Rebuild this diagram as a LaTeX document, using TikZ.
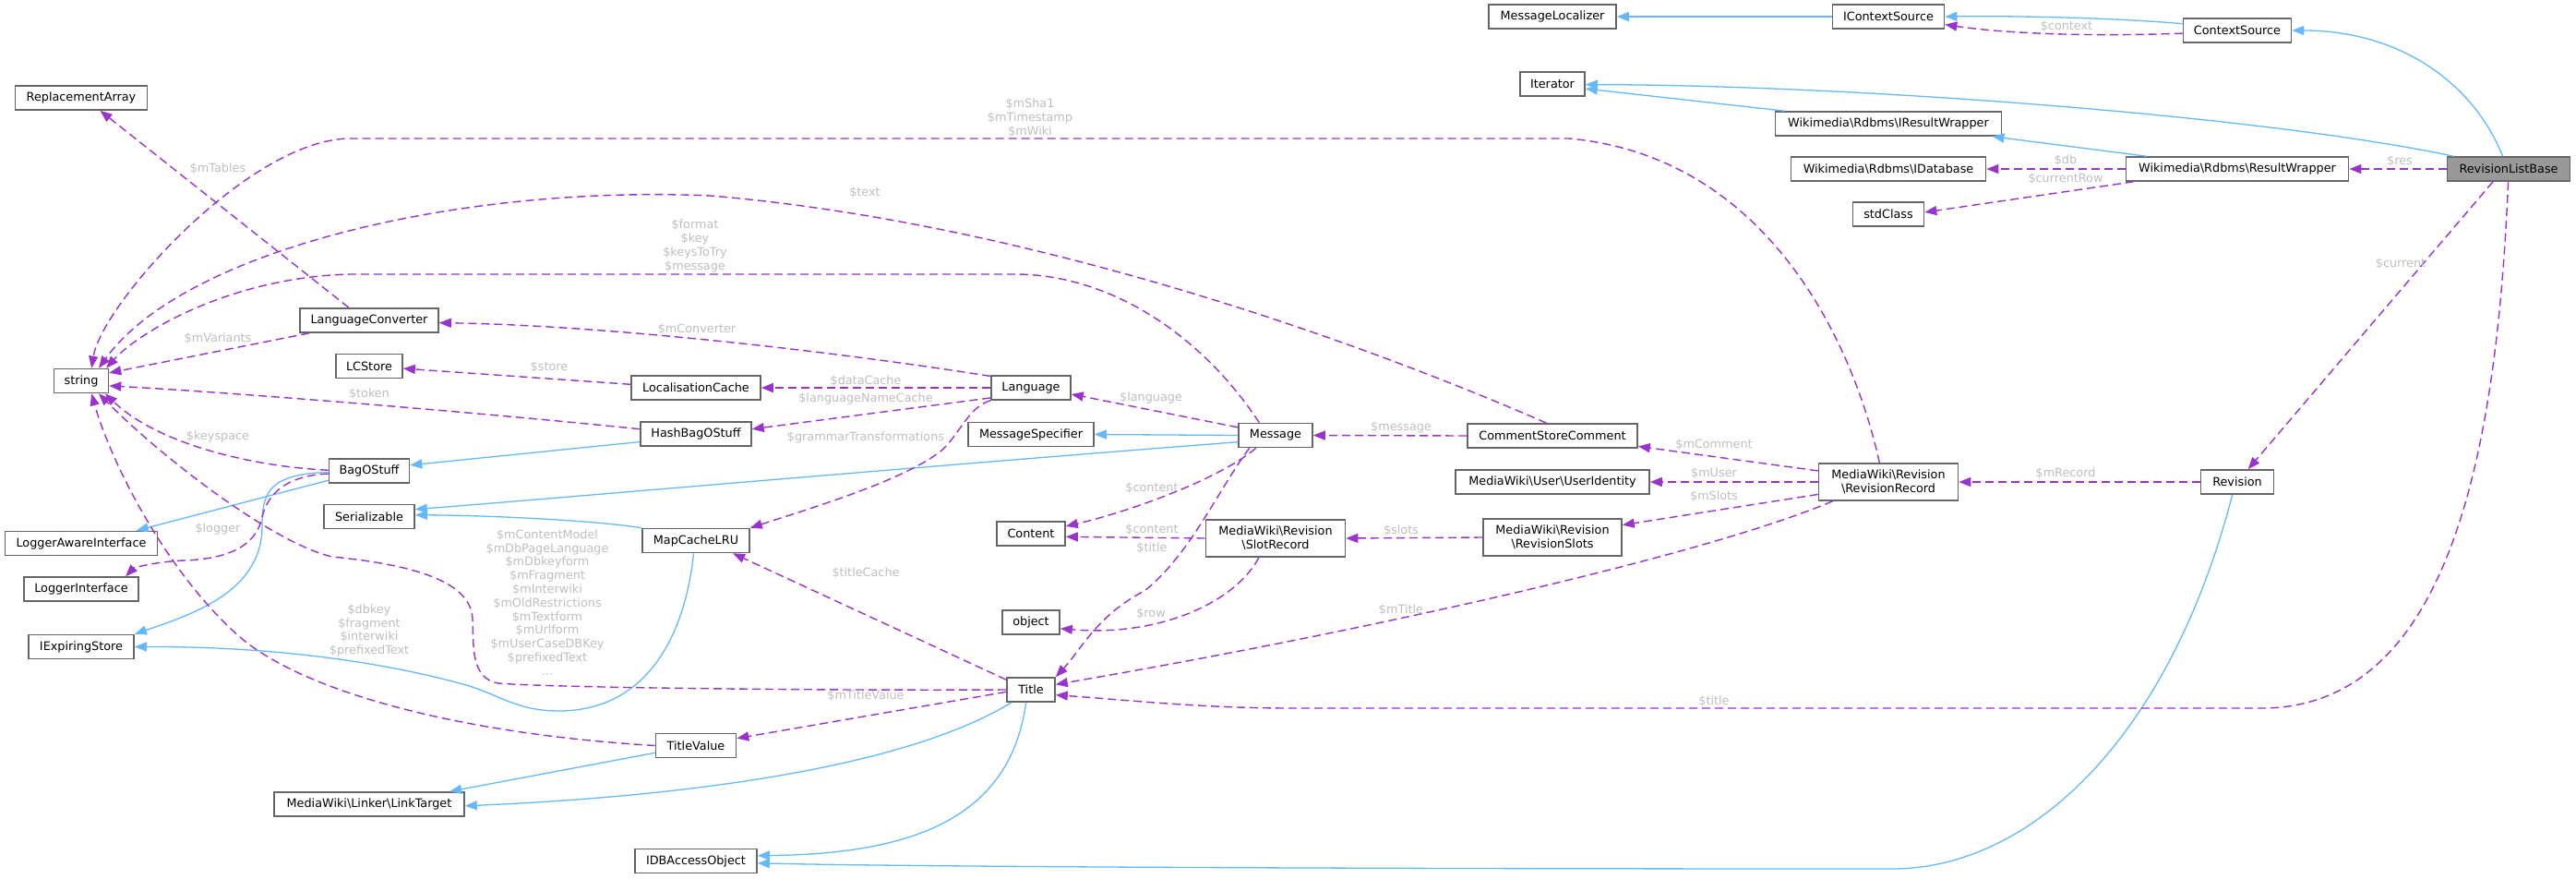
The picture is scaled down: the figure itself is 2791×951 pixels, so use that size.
\documentclass[tikz,border=0pt]{standalone}
\usepackage{fontspec}
\setmainfont{DejaVu Sans}
\usetikzlibrary{arrows.meta}
\definecolor{inhblue}{HTML}{63B8FF}
\definecolor{usepurple}{HTML}{9A32CD}
\definecolor{boxgray}{HTML}{666666}
\definecolor{lblgray}{HTML}{BEBEBE}
\definecolor{mainfill}{HTML}{999999}
\newcommand{\bs}{\textbackslash}
\begin{document}
\begin{tikzpicture}[x=1pt,y=-1pt,
  cls/.style={draw=boxgray, line width=1.6pt, fill=white, minimum height=26pt, inner sep=0pt, font=\fontsize{12.8}{15}\selectfont, align=center},
  cls2/.style={cls, minimum height=40pt},
  inh/.style={draw=inhblue, line width=1.3pt, -{Triangle[length=13pt,width=10pt]}},
  usage/.style={draw=usepurple, line width=1.4pt, dash pattern=on 9pt off 5pt, -{Triangle[length=13pt,width=10pt]}},
  lbl/.style={text=lblgray, font=\fontsize{12.8}{14.8}\selectfont, align=center, inner sep=0pt},
]
\useasboundingbox (0,0) rectangle (2791,951);

% nodes
\node[cls, minimum width=138pt] (MessageLocalizer) at (1682,18) {MessageLocalizer};
\node[cls, minimum width=121pt] (IContextSource) at (2046,18) {IContextSource};
\node[cls, minimum width=117pt] (ContextSource) at (2424,33) {ContextSource};
\node[cls, minimum width=70pt] (Iterator) at (1682,91) {Iterator};
\node[cls, minimum width=245pt] (IResultWrapper) at (2046,134) {Wikimedia\bs Rdbms\bs IResultWrapper};
\node[cls, minimum width=211pt] (IDatabase) at (2046,183) {Wikimedia\bs Rdbms\bs IDatabase};
\node[cls, minimum width=241pt] (ResultWrapper) at (2424,183) {Wikimedia\bs Rdbms\bs ResultWrapper};
\node[cls, minimum width=133pt, fill=mainfill] (RevisionListBase) at (2718,183) {RevisionListBase};
\node[cls, minimum width=77pt] (stdClass) at (2046,232) {stdClass};
\node[cls, minimum width=143pt] (ReplacementArray) at (88,106) {ReplacementArray};
\node[cls, minimum width=59pt] (string) at (88,412.5) {string};
\node[cls, minimum width=150pt] (LanguageConverter) at (400,347) {LanguageConverter};
\node[cls, minimum width=72pt] (LCStore) at (400,396.5) {LCStore};
\node[cls, minimum width=140pt] (LocalisationCache) at (754,420) {LocalisationCache};
\node[cls, minimum width=86pt] (Language) at (1117,420) {Language};
\node[cls, minimum width=120pt] (HashBagOStuff) at (754,470) {HashBagOStuff};
\node[cls, minimum width=136pt] (MessageSpecifier) at (1117,470.5) {MessageSpecifier};
\node[cls, minimum width=80pt] (Message) at (1382,471.5) {Message};
\node[cls, minimum width=184pt] (CommentStoreComment) at (1682,472) {CommentStoreComment};
\node[cls, minimum width=87pt] (BagOStuff) at (400,510) {BagOStuff};
\node[cls, minimum width=98pt] (Serializable) at (400,559.5) {Serializable};
\node[cls, minimum width=210pt] (UserIdentity) at (1682,522) {MediaWiki\bs User\bs UserIdentity};
\node[cls2, minimum width=151pt] (RevisionRecord) at (2046,522) {MediaWiki\bs Revision\\\bs RevisionRecord};
\node[cls, minimum width=79pt] (Revision) at (2424,522) {Revision};
\node[cls, minimum width=165pt] (LoggerAwareInterface) at (88,588.5) {LoggerAwareInterface};
\node[cls, minimum width=116pt] (MapCacheLRU) at (754,585.5) {MapCacheLRU};
\node[cls, minimum width=74pt] (Content) at (1117,578) {Content};
\node[cls2, minimum width=151pt] (SlotRecord) at (1382,583) {MediaWiki\bs Revision\\\bs SlotRecord};
\node[cls2, minimum width=150pt] (RevisionSlots) at (1682,582) {MediaWiki\bs Revision\\\bs RevisionSlots};
\node[cls, minimum width=124pt] (LoggerInterface) at (88,638) {LoggerInterface};
\node[cls, minimum width=62pt] (object) at (1117,674) {object};
\node[cls, minimum width=114pt] (IExpiringStore) at (88,700.5) {IExpiringStore};
\node[cls, minimum width=52pt] (Title) at (1117,747) {Title};
\node[cls, minimum width=87pt] (TitleValue) at (754,807.5) {TitleValue};
\node[cls, minimum width=206pt] (LinkTarget) at (400,871) {MediaWiki\bs Linker\bs LinkTarget};
\node[cls, minimum width=132pt] (IDBAccessObject) at (754,932.5) {IDBAccessObject};

% inheritance edges
\draw[inh] (IContextSource.west) -- (MessageLocalizer.east);
\draw[inh] (ContextSource.173) .. controls (2300,20) and (2200,17) .. (IContextSource.east);
\draw[inh] (RevisionListBase.115) .. controls (2680,90) and (2600,33) .. (ContextSource.east);
\draw[inh] (RevisionListBase.167) .. controls (2450,125) and (2000,92) .. (Iterator.-1);
\draw[inh] (IResultWrapper.173) -- (Iterator.-8);
\draw[inh] (ResultWrapper.172) -- (IResultWrapper.-7);
\draw[inh] (Message.west) -- (MessageSpecifier.east);
\draw[inh] (Message.190) .. controls (1000,505) and (600,540) .. (Serializable.9);
\draw[inh] (MapCacheLRU.north west) .. controls (640,563) and (520,558) .. (Serializable.2);
\draw[inh] (HashBagOStuff.188) -- (BagOStuff.8);
\draw[inh] (BagOStuff.193) -- (LoggerAwareInterface.13.5);
\draw[inh] (BagOStuff.182) .. controls (290,513) and (284,535) .. (284,570) .. controls (284,640) and (210,665) .. (IExpiringStore.north east);
\draw[inh] (MapCacheLRU.260) .. controls (742,690) and (700,770) .. (605,770) .. controls (560,770) and (540,752) .. (505,742) .. controls (420,718) and (300,700) .. (IExpiringStore.east);
\draw[inh] (TitleValue.190) -- (LinkTarget.9);
\draw[inh] (Title.213) .. controls (1000,820) and (800,860) .. (LinkTarget.-1);
\draw[inh] (Title.249) .. controls (1095,880) and (1000,925) .. (IDBAccessObject.5);
\draw[inh] (Revision.249) .. controls (2350,800) and (2200,941) .. (2050,941) .. controls (1500,941) and (1000,939) .. (IDBAccessObject.-2);

% usage edges
\draw[usage] (ContextSource.183) .. controls (2260,40) and (2170,36) .. (IContextSource.-8);
\draw[usage] (ResultWrapper.west) -- (IDatabase.east);
\draw[usage] (ResultWrapper.187.5) -- (stdClass.3);
\draw[usage] (RevisionListBase.west) -- (ResultWrapper.east);
\draw[usage] (RevisionListBase.219) -- (Revision);
\draw[usage] (RevisionListBase.268) .. controls (2705,500) and (2650,767) .. (2450,767) -- (1400,767) .. controls (1300,767) and (1220,758) .. (Title.-12);
\draw[usage] (Revision.west) -- (RevisionRecord.east);
\draw[usage] (RevisionRecord.171) -- (CommentStoreComment.-7.4);
\draw[usage] (RevisionRecord.west) -- (UserIdentity.east);
\draw[usage] (RevisionRecord.190) -- (RevisionSlots.10.6);
\draw[usage] (RevisionRecord.199) .. controls (1850,600) and (1500,680) .. (Title.12);
\draw[usage] (RevisionRecord.115) .. controls (2010,380) and (1920,170) .. (1700,150) -- (380,150) .. controls (270,150) and (110,330) .. (string.51);
\draw[usage] (CommentStoreComment.115) .. controls (1450,360) and (1100,240) .. (770,212) .. controls (500,200) and (200,270) .. (string.36);
\draw[usage] (Message.142) .. controls (1300,360) and (1200,297) .. (1100,297) -- (380,297) .. controls (250,300) and (150,360) .. (string.27);
\draw[usage] (Language.164) .. controls (900,380) and (650,352) .. (LanguageConverter.-2);
\draw[usage] (LanguageConverter.192) -- (string.16);
\draw[usage] (LanguageConverter.148) -- (ReplacementArray.-34.4);
\draw[usage] (Language.west) -- (LocalisationCache.east);
\draw[usage] (LocalisationCache.177) -- (LCStore.-4);
\draw[usage] (Language.194) -- (HashBagOStuff.5.7);
\draw[usage] (Language.south west) .. controls (1050,440) and (1040,470) .. (1020,488) .. controls (980,520) and (880,550) .. (MapCacheLRU.north east);
\draw[usage] (HashBagOStuff.175) .. controls (500,445) and (250,425) .. (string.-10);
\draw[usage] (BagOStuff.179) .. controls (270,505) and (170,480) .. (string.-28);
\draw[usage] (BagOStuff.184) .. controls (310,515) and (290,535) .. (284,560) .. controls (278,590) and (250,605) .. (200,607) .. controls (170,608) and (145,615) .. (LoggerInterface.16);
\draw[usage] (TitleValue.west) .. controls (500,795) and (330,750) .. (260,690) .. controls (180,620) and (120,500) .. (string.-51);
\draw[usage] (Title.180) .. controls (900,748) and (600,745) .. (540,740) .. controls (510,735) and (513,700) .. (512,670) .. controls (510,630) and (450,612) .. (360,603) .. controls (300,590) and (180,500) .. (string.-36);
\draw[usage] (Title.158) -- (MapCacheLRU.-19.65);
\draw[usage] (Title.185) -- (TitleValue.10);
\draw[usage] (Message.168) -- (Language.-9);
\draw[usage] (CommentStoreComment.west) -- (Message.east);
\draw[usage] (Message.213) .. controls (1320,520) and (1220,555) .. (Content.12);
\draw[usage] (Message.206) .. controls (1320,530) and (1290,600) .. (1240,640) .. controls (1190,665) and (1170,705) .. (Title.north east);
\draw[usage] (SlotRecord.west) -- (Content.-5);
\draw[usage] (SlotRecord.229.6) .. controls (1340,650) and (1260,690) .. (object.-12.7);
\draw[usage] (RevisionSlots.west) -- (SlotRecord.east);

% labels
\node[lbl] (l1) at (2239,29) {\$context};
\node[lbl] (l2) at (2238,174) {\$db};
\node[lbl] (l3) at (2238,194) {\$currentRow};
\node[lbl] (l4) at (2600,175) {\$res};
\node[lbl] (l5) at (2601,286) {\$current};
\node[lbl] (l6) at (2238,513) {\$mRecord};
\node[lbl] (l7) at (1857,482) {\$mComment};
\node[lbl] (l8) at (1857,513) {\$mUser};
\node[lbl] (l9) at (1857,538) {\$mSlots};
\node[lbl] (l10) at (1518,661) {\$mTitle};
\node[lbl] (l11) at (1857,760) {\$title};
\node[lbl] (l12) at (1116,127.5) {\$mSha1\\\$mTimestamp\\\$mWiki};
\node[lbl] (l13) at (937,209) {\$text};
\node[lbl] (l14) at (753,266.5) {\$format\\\$key\\\$keysToTry\\\$message};
\node[lbl] (l15) at (755,357) {\$mConverter};
\node[lbl] (l16) at (938,413) {\$dataCache};
\node[lbl] (l17) at (938,432) {\$languageNameCache};
\node[lbl] (l18) at (938,474) {\$grammarTransformations};
\node[lbl] (l19) at (1247,431) {\$language};
\node[lbl] (l20) at (1518,463) {\$message};
\node[lbl] (l21) at (1248,529) {\$content};
\node[lbl] (l22) at (1248,574) {\$content};
\node[lbl] (l23) at (1248,594) {\$title};
\node[lbl] (l24) at (1247,665) {\$row};
\node[lbl] (l25) at (1518,575) {\$slots};
\node[lbl] (l26) at (938,621) {\$titleCache};
\node[lbl] (l27) at (938,754) {\$mTitleValue};
\node[lbl] (l28) at (236,183) {\$mTables};
\node[lbl] (l29) at (236,367) {\$mVariants};
\node[lbl] (l30) at (595,398) {\$store};
\node[lbl] (l31) at (400,427) {\$token};
\node[lbl] (l32) at (236,473) {\$keyspace};
\node[lbl] (l33) at (236,573) {\$logger};
\node[lbl] (l34) at (400,683) {\$dbkey\\\$fragment\\\$interwiki\\\$prefixedText};
\node[lbl] (l35) at (593,652.5) {\$mContentModel\\\$mDbPageLanguage\\\$mDbkeyform\\\$mFragment\\\$mInterwiki\\\$mOldRestrictions\\\$mTextform\\\$mUrlform\\\$mUserCaseDBKey\\\$prefixedText\\...};
\end{tikzpicture}
\end{document}
